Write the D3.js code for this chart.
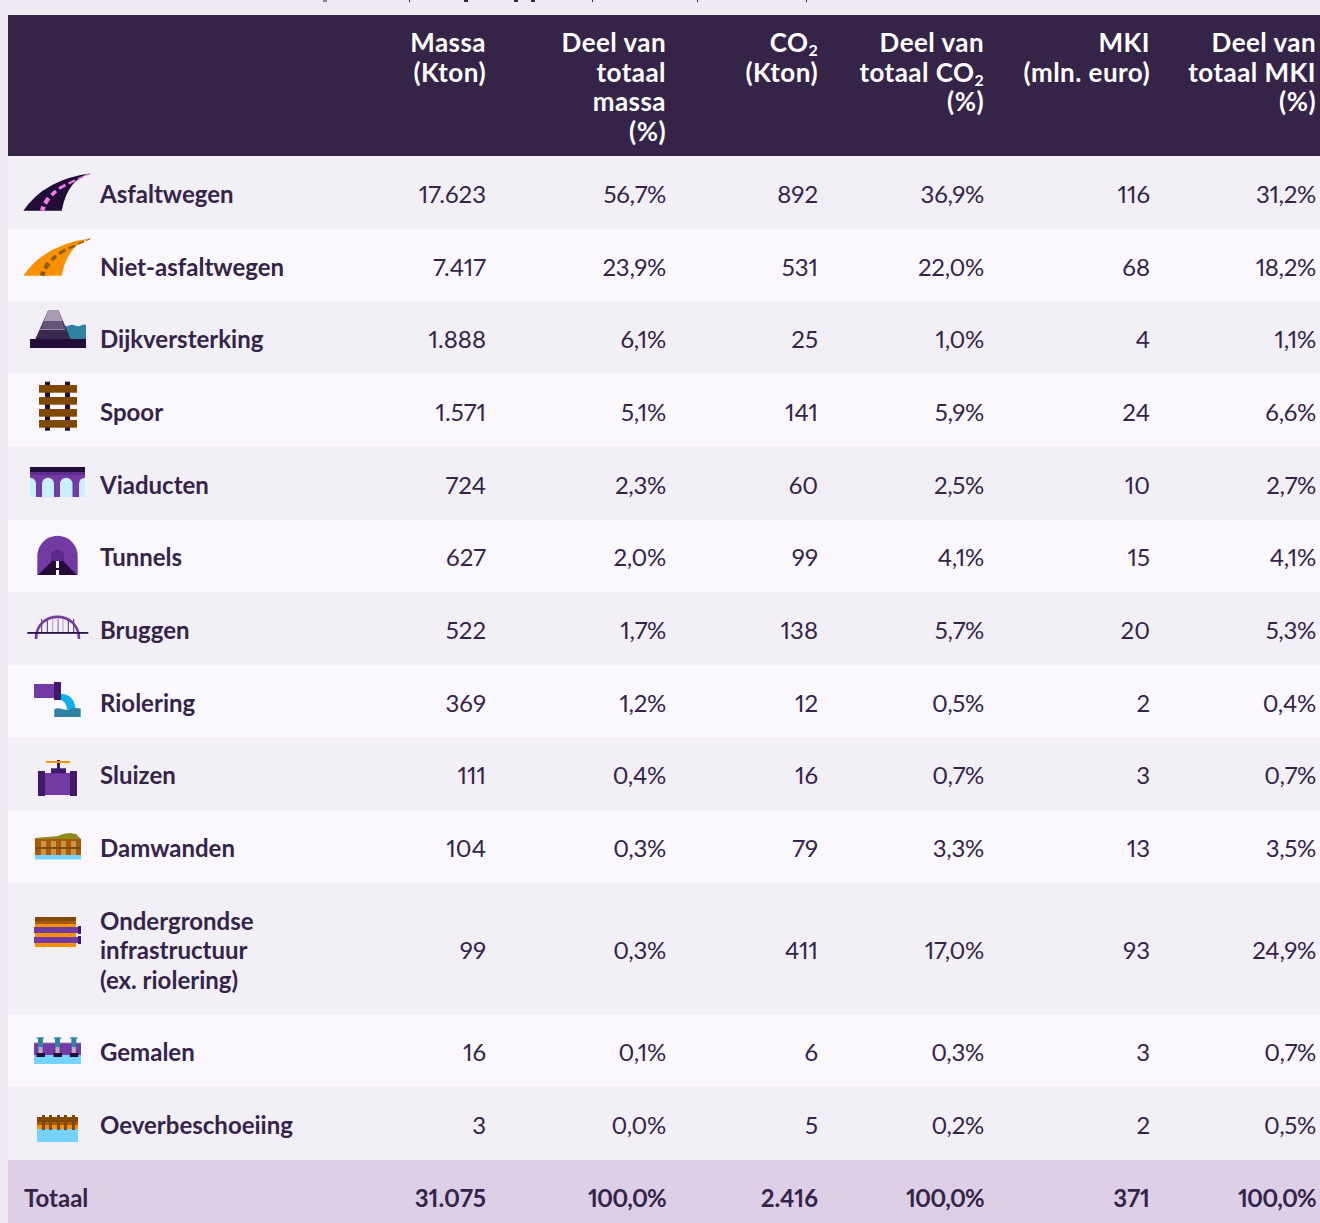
<!DOCTYPE html>
<html>
<head>
<meta charset="utf-8">
<script src="https://cdn.jsdelivr.net/npm/d3@7"></script>
<style>
  html, body { margin: 0; padding: 0; background: #f0eaf5; }
  svg { display: block; }
  text { font-family: Lato, "Open Sans", sans-serif; font-variant-numeric: proportional-nums; }
</style>
</head>
<body>
<div id="chart"></div>
<script>
// table values
const categories = ["Asfaltwegen", "Niet-asfaltwegen", "Dijkversterking", "Spoor", "Viaducten", "Tunnels", "Bruggen",
    "Riolering", "Sluizen", "Damwanden", "Ondergrondse|infrastructuur|(ex. riolering)", "Gemalen", "Oeverbeschoeiing"];
const massa = ["17.623", "7.417", "1.888", "1.571", "724", "627", "522", "369", "111", "104", "99", "16", "3"];
const massaPct = ["56,7%", "23,9%", "6,1%", "5,1%", "2,3%", "2,0%", "1,7%", "1,2%", "0,4%", "0,3%", "0,3%", "0,1%", "0,0%"];
const co2 = ["892", "531", "25", "141", "60", "99", "138", "12", "16", "79", "411", "6", "5"];
const co2Pct = ["36,9%", "22,0%", "1,0%", "5,9%", "2,5%", "4,1%", "5,7%", "0,5%", "0,7%", "3,3%", "17,0%", "0,3%", "0,2%"];
const mki = ["116", "68", "4", "24", "10", "15", "20", "2", "3", "13", "93", "3", "2"];
const mkiPct = ["31,2%", "18,2%", "1,1%", "6,6%", "2,7%", "4,1%", "5,3%", "0,4%", "0,7%", "3,5%", "24,9%", "0,7%", "0,5%"];
const totals = ["31.075", "100,0%", "2.416", "100,0%", "371", "100,0%"];
const headers = [["Massa", "(Kton)"], ["Deel van", "totaal", "massa", "(%)"], ["CO|2", "(Kton)"],
    ["Deel van", "totaal CO|2", "(%)"], ["MKI", "(mln. euro)"], ["Deel van", "totaal MKI", "(%)"]];

const width = 1320;
const height = 1223;
const ink = "#35244a";
const dark = "#240c38";
const purple = "#733aa3";
const deep = "#42186b";
const brown = "#7f4a00";
const orange = "#f79100";
const teal = "#2f82a3";
const sky = "#75d4ff";

const columns = [massa, massaPct, co2, co2Pct, mki, mkiPct];
const colX = d3.scaleOrdinal().domain(d3.range(6)).range([486, 666, 818, 984, 1150, 1316]);

// row tops: every row is one band high, the three line row is a bit taller
const lineCounts = categories.map(c => c.split("|").length);
const bandTops = [0];
lineCounts.forEach((n, i) => bandTops.push(bandTops[i] + (n > 1 ? 1.815 : 1)));
const rowY = d3.scaleLinear().domain([0, bandTops[bandTops.length - 1]]).range([156, 1160]);

const svg = d3.select("#chart").append("svg")
    .attr("width", width)
    .attr("height", height);

// bottoms of the line of text that is cut off above the table
[[323, 4, "#8d829b"], [409, 1, ink], [464, 4, ink], [514, 4, ink], [531, 4, ink], [592, 1, ink], [697, 1, ink], [806, 1, ink]]
    .forEach(m => svg.append("rect").attr("x", m[0]).attr("y", 0).attr("width", m[1]).attr("height", 2).attr("fill", m[2]));

// header
svg.append("rect").attr("x", 8).attr("y", 15).attr("width", width - 8).attr("height", 141).attr("fill", "#352448");

headers.forEach((lines, c) => {
    lines.forEach((line, l) => {
        const parts = line.split("|");
        const t = svg.append("text")
            .attr("x", colX(c))
            .attr("y", 52 + l * 29.6)
            .attr("text-anchor", "end")
            .attr("font-size", 26)
            .attr("font-weight", 700)
            .attr("letter-spacing", 0.45)
            .attr("fill", "#fff");
        t.append("tspan").text(parts[0]);
        if (parts[1]) {
            t.append("tspan").attr("dy", 4).attr("font-size", 16).text(parts[1]);
        }
    });
});

// body rows
const rows = svg.selectAll(".row")
    .data(categories)
    .join("g")
    .attr("class", "row");

rows.append("rect")
    .attr("x", 8)
    .attr("y", (d, i) => rowY(bandTops[i]))
    .attr("width", width - 8)
    .attr("height", (d, i) => rowY(bandTops[i + 1]) - rowY(bandTops[i]))
    .attr("fill", (d, i) => i % 2 ? "#faf8fd" : "#f3eff6");

rows.each(function (d, i) {
    const g = d3.select(this);
    const lines = d.split("|");
    const mid = (rowY(bandTops[i]) + rowY(bandTops[i + 1])) / 2;
    lines.forEach((line, l) => {
        g.append("text")
            .attr("x", 100)
            .attr("y", mid + 10.5 + (l - (lines.length - 1) / 2) * 29.5)
            .attr("font-size", 24)
            .attr("font-weight", 700)
            .attr("fill", ink)
            .text(line);
    });
    columns.forEach((col, c) => {
        g.append("text")
            .attr("x", colX(c))
            .attr("y", mid + 10.5)
            .attr("text-anchor", "end")
            .attr("font-size", 24)
            .attr("letter-spacing", col[i].includes("%") ? -0.3 : 0)
            .attr("fill", ink)
            .text(col[i]);
    });
});

// totals
svg.append("rect").attr("x", 8).attr("y", 1160).attr("width", width - 8).attr("height", 63).attr("fill", "#dccfe6");
svg.append("text").attr("x", 24).attr("y", 1207).attr("font-size", 24).attr("font-weight", 700).attr("fill", ink).text("Totaal");
totals.forEach((t, c) => {
    svg.append("text")
        .attr("x", colX(c))
        .attr("y", 1207)
        .attr("text-anchor", "end")
        .attr("font-size", 24)
        .attr("font-weight", 700)
        .attr("letter-spacing", t.includes("%") ? -0.8 : 0)
        .attr("fill", ink)
        .text(t);
});

// small helpers for the pictograms
const icons = svg.append("g").attr("class", "icons");
function box(x, y, w, h, fill, rx) {
    icons.append("rect").attr("x", x).attr("y", y).attr("width", w).attr("height", h).attr("fill", fill).attr("rx", rx || 0);
}
function shape(d, fill) {
    icons.append("path").attr("d", d).attr("fill", fill);
}
function stroke(d, color, w) {
    icons.append("path").attr("d", d).attr("fill", "none").attr("stroke", color).attr("stroke-width", w);
}

function road(dy, fill, dash) {
    shape(`M23.3,${210.7 + dy} Q45,${179 + dy} 91.7,${173.3 + dy} Q68,${178 + dy} 61.7,${210.7 + dy} Z`, fill);
    // centre dashes get thinner towards the far end
    stroke(`M42.3,${210.7 + dy} L43.3,${206.5 + dy}`, dash, 4.6);
    stroke(`M45,${203.5 + dy} L48.5,${198 + dy}`, dash, 4.2);
    stroke(`M51.5,${195 + dy} L56,${191 + dy}`, dash, 3.6);
    stroke(`M59,${188.5 + dy} L65.5,${185 + dy}`, dash, 3);
    stroke(`M68.5,${183.5 + dy} L75,${180.5 + dy}`, dash, 2.2);
    stroke(`M78,${179 + dy} L84,${176.5 + dy}`, dash, 1.6);
    stroke(`M86,${175.5 + dy} L90,${174 + dy}`, dash, 1);
}
road(0, dark, "#f07de8");
road(65, orange, "#8a5a10");

// Dijkversterking
shape("M63,325 Q66,327 69,325.5 T75,325.5 T81,325.5 T86,325 V339 H63 Z", teal);
shape("M48.3,310 H58.3 L70.7,339 H35.3 Z", "#3a2a4f");
shape("M48.3,310 H58.3 L65,329 H40.8 Z", "#655578");
shape("M48.3,310 H58.3 L62.5,321 H43.8 Z", "#a89cb5");
box(39, 329, 26, 0.8, "#a89cb5");
box(30, 339, 56, 9, dark);

// Spoor
box(45, 381.7, 5, 49, dark);
box(65, 381.7, 5, 49, dark);
[385, 397, 409, 420].forEach(y => box(39, y, 38, 7.7, brown));

// Viaducten
box(30, 467, 55, 5, dark);
box(30, 472, 55, 25, purple);
box(30, 472, 55, 3, "#5f2d92");
[[24, 12], [42, 12], [60, 12.5], [79, 12]].forEach(a => {
    shape(`M${a[0]},497 V${477.7 + a[1] / 2} A${a[1] / 2},${a[1] / 2} 0 0 1 ${a[0] + a[1]},${477.7 + a[1] / 2} V497 Z`, "#c8f0ff");
});
box(24, 472, 6, 25, "#f3eff6");
box(85, 472, 6, 25, "#f3eff6");

// Tunnels
shape("M37.3,575 V556 A20.2,20.2 0 0 1 77.7,556 V575 Z", purple);
shape("M51,575 V556 A6.5,6.5 0 0 1 64,556 V575 Z", "#5a2a8c");
shape("M52,561 H63 L77,575 H38 Z", dark);
box(56, 561, 3, 7, "#fff");
box(56, 570, 3, 5, "#fff");

// Bruggen
[41.7, 47.3, 52.7, 57.7, 63, 68.3, 73.7].forEach((x, i) => {
    box(x - 0.5, 619, i === 3 ? 1.8 : 1, 14, i > 1 && i < 5 ? "#b79bd0" : "#4d2f73");
});
stroke("M36,639 C36,609.5 79,609.5 79,639", purple, 2.6);
box(27.3, 632, 61, 1.8, "#2a1240");

// Riolering
shape("M61,694 C70,694 75,700 75.5,709 H67 C66.5,704 64,701 61,700 Z", "#0fb0e8");
shape("M54.3,709 Q58,707.5 62,709 T70,709 T80.7,708.5 V717 H54.3 Z", teal);
box(34, 684, 20, 14, purple);
box(54, 682, 7, 18, deep);

// Sluizen
box(45, 773, 25, 22, purple);
box(38, 771, 7, 25, deep);
box(70, 771, 7, 25, deep);
box(51, 768.3, 15, 5, deep);
box(57, 760, 3, 9, deep);
box(46, 761, 24, 2, orange);

// Damwanden
shape("M35,839 V838 L58,836 Q62,833.5 70,833 L76,834 L81,839 Z", "#8f8a1e");
box(35, 839, 46, 16, "#a85a00");
box(35, 847, 46, 2, "#7f4a00");
[41, 51, 61, 71].forEach(x => { box(x, 841, 5, 6, "#c99450"); box(x, 849, 5, 6, "#c99450"); });
box(35, 855, 46, 4.5, sky);

// Ondergrondse infrastructuur
box(35, 917, 41, 4, brown);
box(35, 921, 41, 3, "#a85a00");
box(35, 924, 41, 23, orange);
box(34, 927, 44, 6, purple);
box(34, 937, 44, 6, purple);
box(78, 926, 3, 8, deep);
box(78, 936, 3, 8, deep);

// Gemalen
box(34, 1043, 47, 12, purple);
box(34, 1055, 47, 9, sky);
box(34, 1042, 47, 1.2, "#cfc8d8");
[38, 55, 71.3].forEach(x => {
    box(x - 1.5, 1037.5, 8, 1, teal);
    box(x, 1037.5, 5, 9.5, teal);
    box(x + 0.5, 1047, 4, 6, "#b9aec6");
    box(x - 1.5, 1053, 8.5, 4, dark);
});

// Oeverbeschoeiing
box(37, 1117, 41, 5, brown);
box(37, 1122, 41, 3, "#a85a00");
box(37, 1125, 41, 4, orange);
box(37, 1129, 41, 13, sky);
[42, 49, 57, 64, 72].forEach(x => box(x, 1115, 3, 15, brown));
</script>
</body>
</html>
